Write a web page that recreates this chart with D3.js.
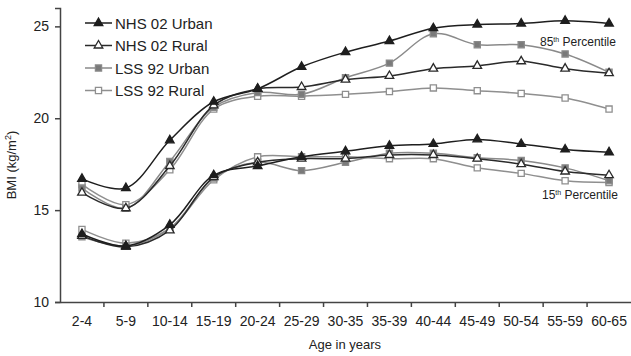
<!DOCTYPE html>
<html>
<head>
<meta charset="utf-8">
<script src="https://cdn.jsdelivr.net/npm/d3@7"></script>
<style>
  body { margin: 0; background: #fff; }
  text { font-family: "Liberation Sans", Arial, sans-serif; fill: #222; }
</style>
</head>
<body>
<div id="chart"></div>
<script>
// age groups on the x axis
const ageGroups = ['2-4', '5-9', '10-14', '15-19', '20-24', '25-29', '30-35',
  '35-39', '40-44', '45-49', '50-54', '55-59', '60-65'];

// 85th percentile curves
const nhsUrban85 = [16.7, 16.2, 18.8, 20.9, 21.6, 22.8, 23.6, 24.2, 24.9, 25.1, 25.15, 25.3, 25.15];
const nhsRural85 = [15.95, 15.1, 17.4, 20.7, 21.6, 21.7, 22.1, 22.3, 22.7, 22.85, 23.1, 22.7, 22.45];
const lssUrban85 = [16.2, 15.1, 17.65, 20.6, 21.4, 21.3, 22.2, 23.0, 24.6, 24.0, 24.0, 23.5, 22.5];
const lssRural85 = [16.4, 15.3, 17.2, 20.5, 21.2, 21.2, 21.3, 21.45, 21.65, 21.5, 21.35, 21.1, 20.5];

// 15th percentile curves
const nhsUrban15 = [13.7, 13.05, 14.2, 16.9, 17.4, 17.9, 18.2, 18.5, 18.6, 18.85, 18.6, 18.3, 18.15];
const nhsRural15 = [13.6, 13.0, 13.9, 16.8, 17.6, 17.8, 17.8, 18.0, 18.0, 17.8, 17.5, 17.1, 16.9];
const lssUrban15 = [13.55, 13.05, 14.0, 16.75, 17.6, 17.15, 17.6, 18.1, 18.1, 17.85, 17.7, 17.3, 16.6];
const lssRural15 = [13.95, 13.2, 14.0, 16.65, 17.9, 17.9, 17.9, 17.8, 17.8, 17.3, 17.0, 16.6, 16.5];

const yTicks = [10, 15, 20, 25];

const series = [
  { name: 'NHS 02 Urban', p85: nhsUrban85, p15: nhsUrban15, stroke: '#1e1e1e', marker: 'triangle', fill: '#1e1e1e' },
  { name: 'NHS 02 Rural', p85: nhsRural85, p15: nhsRural15, stroke: '#2a2a2a', marker: 'triangle', fill: '#fff' },
  { name: 'LSS 92 Urban', p85: lssUrban85, p15: lssUrban15, stroke: '#8a8a8a', marker: 'square', fill: '#7a7a7a' },
  { name: 'LSS 92 Rural', p85: lssRural85, p15: lssRural15, stroke: '#8f8f8f', marker: 'square', fill: '#fff' }
];

const width = 631, height = 356;
const margin = { top: 8, right: 0, bottom: 54, left: 60 };

const svg = d3.select('#chart').append('svg')
  .attr('width', width)
  .attr('height', height);

const x = d3.scaleBand()
  .domain(ageGroups)
  .range([margin.left, width - margin.right]);

const y = d3.scaleLinear()
  .domain([10, 26])
  .range([height - margin.bottom, margin.top]);

// axes
const xAxis = svg.append('g')
  .attr('transform', 'translate(0,' + (height - margin.bottom) + ')')
  .call(d3.axisBottom(x).tickSize(0).tickPadding(14));
xAxis.select('.domain').attr('stroke', '#444').attr('stroke-width', 1.5);
xAxis.selectAll('text').style('font-size', '14px');

// tick marks sit between categories
xAxis.selectAll('line.sep')
  .data(ageGroups.slice(1))
  .enter()
  .append('line')
  .attr('class', 'sep')
  .attr('x1', d => x(d))
  .attr('x2', d => x(d))
  .attr('y1', 0)
  .attr('y2', 5)
  .attr('stroke', '#444')
  .attr('stroke-width', 1.5);

const yAxis = svg.append('g')
  .attr('transform', 'translate(' + margin.left + ',0)')
  .call(d3.axisLeft(y).tickValues(yTicks).tickSize(5).tickPadding(6));
yAxis.select('.domain').attr('stroke', '#444').attr('stroke-width', 1.5);
yAxis.selectAll('.tick line').attr('stroke', '#444').attr('stroke-width', 1.5);
yAxis.selectAll('text').style('font-size', '14px');

// axis titles
svg.append('text')
  .attr('x', 345)
  .attr('y', 349)
  .attr('text-anchor', 'middle')
  .style('font-size', '13px')
  .text('Age in years');

const yTitle = svg.append('text')
  .attr('transform', 'translate(16,' + 165 + ') rotate(-90)')
  .attr('text-anchor', 'middle')
  .style('font-size', '13px');
yTitle.append('tspan').text('BMI (kg/m');
yTitle.append('tspan').attr('dy', -5).style('font-size', '9px').text('2');
yTitle.append('tspan').attr('dy', 5).text(')');

// lines + markers
const line = d3.line()
  .x((d, i) => x(ageGroups[i]) + x.bandwidth() / 2)
  .y(d => y(d))
  .curve(d3.curveCatmullRom.alpha(0.5));

const triangle = d3.symbol().type(d3.symbolTriangle).size(32);
const square = d3.symbol().type(d3.symbolSquare).size(38);

function drawMarkers(g, s, vals, cx, cy) {
  g.selectAll('path.m')
    .data(vals)
    .enter()
    .append('path')
    .attr('class', 'm')
    .attr('d', s.marker === 'triangle' ? triangle : square)
    .attr('transform', (d, i) => 'translate(' + cx(i) + ',' + cy(d) + ')')
    .attr('fill', s.fill)
    .attr('stroke', s.stroke)
    .attr('stroke-width', 1.3);
}

// draw grey series first so black ones sit on top
const order = [3, 2, 1, 0];
order.forEach(k => {
  const s = series[k];
  [s.p85, s.p15].forEach(vals => {
    const g = svg.append('g');
    g.append('path')
      .attr('d', line(vals))
      .attr('fill', 'none')
      .attr('stroke', s.stroke)
      .attr('stroke-width', 1.5);
    drawMarkers(g, s, vals,
      i => x(ageGroups[i]) + x.bandwidth() / 2,
      d => y(d));
  });
});

// legend
const legend = svg.append('g');
series.forEach((s, i) => {
  const ly = 23 + i * 22.5;
  const row = legend.append('g');
  row.append('line')
    .attr('x1', 85).attr('x2', 112)
    .attr('y1', ly).attr('y2', ly)
    .attr('stroke', s.stroke)
    .attr('stroke-width', 1.5);
  row.append('path')
    .attr('d', s.marker === 'triangle' ? triangle : square)
    .attr('transform', 'translate(98.5,' + ly + ')')
    .attr('fill', s.fill)
    .attr('stroke', s.stroke)
    .attr('stroke-width', 1.3);
  row.append('text')
    .attr('x', 115)
    .attr('y', ly + 5.5)
    .style('font-size', '15px')
    .text(s.name);
});

// percentile labels
function pctLabel(px, py, num) {
  const t = svg.append('text')
    .attr('x', px).attr('y', py)
    .style('font-size', '12px');
  t.append('tspan').text(num);
  t.append('tspan').attr('dy', -4).style('font-size', '7px').text('th');
  t.append('tspan').attr('dy', 4).text(' Percentile');
}
pctLabel(540, 46, '85');
pctLabel(542, 199, '15');
</script>
</body>
</html>
